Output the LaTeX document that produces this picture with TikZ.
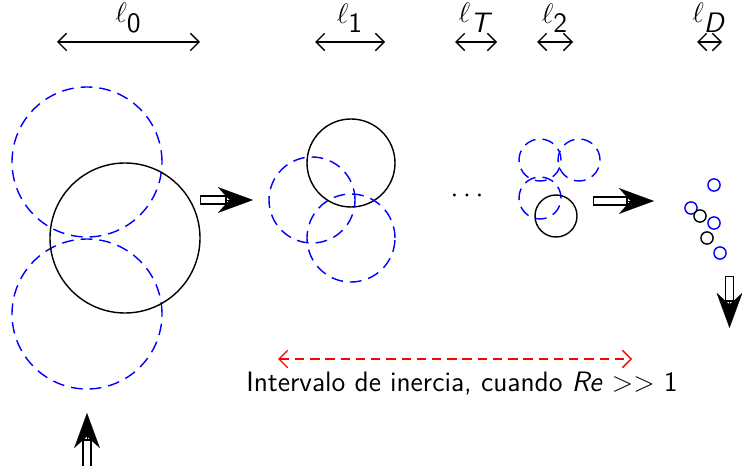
\documentclass[tikz,border=0pt]{standalone}
\usepackage{tikz}
\usetikzlibrary{arrows.meta,positioning,calc}

\begin{document}
\begin{tikzpicture}[
  x=0.015cm,y=-0.015cm,
  font=\sffamily,
  eddy/.style={circle,draw=black,semithick,inner sep=0pt},
  ghost/.style={circle,draw=blue,semithick,dashed,dash pattern=on 5pt off 3pt,inner sep=0pt},
  drop/.style={circle,draw,semithick,inner sep=0pt,minimum size=5.2pt},
  scl/.style={{Straight Barb[length=1.3mm]}-{Straight Barb[length=1.3mm]},semithick},
  shaft/.style={line width=4.2pt,shorten >=11pt},
  core/.style={white,line width=2.8pt,shorten >=12pt},
  tip/.style={line width=0.1pt,-{Stealth[length=15pt,width=11pt,inset=5pt]}},
  lab/.style={font=\sffamily\large}
]
  \useasboundingbox (0,0) rectangle (742,466);
  % escalas
  \foreach \n/\a/\b/\t in {s0/57/200/0,s1/315/385/1,sT/455/497/\textit{T},s2/537/573/2,sD/697/722/\textit{D}}{
    \coordinate (\n a) at (\a,42);
    \coordinate (\n b) at (\b,42);
    \draw[scl] (\n a) -- (\n b);
    \node[lab] (\n l) at ($(\n a)!0.5!(\n b)+(0,-24)$) {$\ell_{\textsf{\t}}$};
  }
  % remolino grande
  \node[ghost,minimum size=150*0.015cm] (g0a) at (87,162) {};
  \node[ghost,minimum size=150*0.015cm] (g0b) at (87,314) {};
  \node[eddy,minimum size=150*0.015cm] (e0) at (125,238) {};
  % nivel 1
  \node[eddy,minimum size=88*0.015cm] (e1) at (351,163) {};
  \node[ghost,minimum size=86*0.015cm] (g1a) at (312,200) {};
  \node[ghost,minimum size=88*0.015cm] (g1b) at (351,238) {};
  \node[font=\large] (dots) at (467,196) {$\cdots$};
  % nivel 2
  \node[ghost,minimum size=42*0.015cm] (g2a) at (540,160) {};
  \node[ghost,minimum size=42*0.015cm] (g2b) at (579,160) {};
  \node[ghost,minimum size=42*0.015cm] (g2c) at (540,198) {};
  \node[eddy,minimum size=42*0.015cm] (e2) at (556,216) {};
  % disipacion
  \foreach \x/\y in {714/185,691/208,714/223,720/253}
    {\node[drop,blue] at (\x,\y) {};}
  \foreach \x/\y in {700/216,707/238}
    {\node[drop,black] at (\x,\y) {};}
  % flechas de cascada
  \coordinate (f1a) at (200,200);
  \coordinate (f1b) at (253,200);
  \coordinate (f2a) at (593,201);
  \coordinate (f2b) at (654,201);
  \coordinate (f3a) at (729.5,276);
  \coordinate (f3b) at (729.5,328);
  \coordinate (f0a) at (87,470);
  \coordinate (f0b) at (87,413);
  \foreach \x/\y in {f0a/f0b,f1a/f1b,f2a/f2b,f3a/f3b}
    {\draw[shaft] (\x) -- (\y);
     \draw[core] ($(\x)!0.4pt!(\y)$) -- (\y);
     \draw[tip] ($(\y)!12pt!(\x)$) -- (\y);}
  % intervalo inercial
  \coordinate (ia) at (278,359);
  \coordinate (ib) at (632,359);
  \draw[red,semithick,dashed,dash pattern=on 4pt off 2.5pt,{Straight Barb[length=1.3mm]}-{Straight Barb[length=1.3mm]}] (ia) -- (ib);
  \node[font=\sffamily\large] (itxt) at (462,383) {Intervalo de inercia, cuando \textit{Re} $>>$ 1};
\end{tikzpicture}
\end{document}
